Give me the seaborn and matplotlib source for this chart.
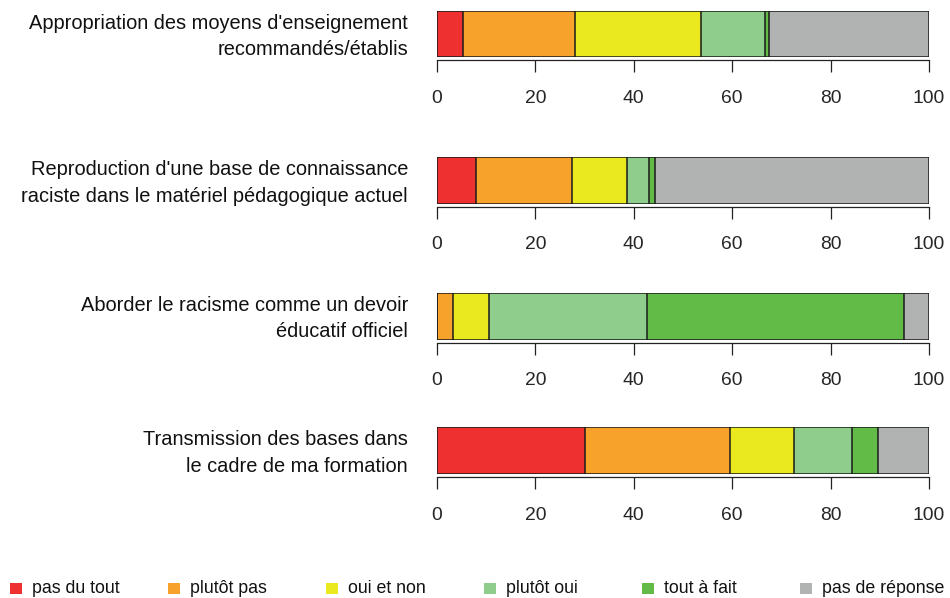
import matplotlib
matplotlib.use("Agg")
import matplotlib.pyplot as plt
from matplotlib.patches import Rectangle
import seaborn as sns
import pandas as pd
import numpy as np

sns.set_style("white")
plt.rcParams['font.family'] = ['Liberation Sans', 'DejaVu Sans']

questions = [
    "Appropriation des moyens d'enseignement\nrecommandés/établis",
    "Reproduction d'une base de connaissance\nraciste dans le matériel pédagogique actuel",
    "Aborder le racisme comme un devoir\néducatif officiel",
    "Transmission des bases dans\nle cadre de ma formation",
]
categories = ["pas du tout", "plutôt pas", "oui et non", "plutôt oui", "tout à fait", "pas de réponse"]
colors = ["#EE3030", "#F7A22B", "#EAE81F", "#8FCD8C", "#62BA47", "#B1B3B3"]

pas_du_tout = [5.2, 7.9, 0.0, 30.1]
plutot_pas = [22.9, 19.6, 3.3, 29.5]
oui_et_non = [25.5, 11.1, 7.2, 13.0]
plutot_oui = [13.1, 4.5, 32.1, 11.8]
tout_a_fait = [0.7, 1.3, 52.3, 5.2]
pas_de_reponse = [32.6, 55.6, 5.1, 10.4]
x_ticks = [0, 20, 40, 60, 80, 100]

series = [pas_du_tout, plutot_pas, oui_et_non, plutot_oui, tout_a_fait, pas_de_reponse]

W, H = 950, 598
fig = plt.figure(figsize=(W / 100, H / 100), dpi=100)

tops = [11, 157.3, 292.7, 427.3]
bots = [57.3, 204, 340, 474.3]
x0, x1 = 437, 929

for i, q in enumerate(questions):
    vals = np.array([s[i] for s in series])
    vals = vals / vals.sum() * 100
    cum = np.cumsum(vals)
    df = pd.DataFrame({"cat": categories, "cum": cum, "y": ["q"] * len(categories)})
    ax = fig.add_axes([x0 / W, 1 - bots[i] / H, (x1 - x0) / W, (bots[i] - tops[i]) / H])
    sns.barplot(data=df, x="cum", y="y", hue="cat", hue_order=categories[::-1],
                palette=dict(zip(categories, colors)), dodge=False, orient="h",
                saturation=1, edgecolor="#1a1a1a", linewidth=1.1, width=0.8,
                legend=False, ax=ax)
    ax.set_xlim(0, 100)
    ax.set_ylim(0.4, -0.4)
    ax.set_yticks([])
    ax.set_xlabel("")
    ax.set_ylabel("")
    for s in ["left", "right", "top"]:
        ax.spines[s].set_visible(False)
    ax.spines["bottom"].set_position(("outward", 2))
    ax.spines["bottom"].set_bounds(0, 100)
    ax.spines["bottom"].set_linewidth(0.9)
    ax.spines["bottom"].set_color("#222222")
    ax.set_xticks(x_ticks)
    ax.set_xticklabels([str(t) for t in x_ticks])
    ax.tick_params(axis="x", direction="out", length=8.5, width=0.9, pad=12.8,
                   labelsize=13.9, color="#222222", bottom=True)
    ax.patch.set_alpha(0)
    yc = (tops[i] + bots[i]) / 2 + 2.2
    fig.text(408 / W, 1 - yc / H, q, ha="right", va="center", fontsize=14.4,
             linespacing=1.5, color="#111111")

# legend
leg_x = [10, 168, 326, 484, 642, 800]
for lx, cat, col in zip(leg_x, categories, colors):
    fig.patches.append(Rectangle((lx / W, 1 - 594 / H), 11.5 / W, 11.5 / H,
                                 transform=fig.transFigure, facecolor=col,
                                 edgecolor="none"))
    fig.text((lx + 22) / W, 1 - 588.5 / H, cat, ha="left", va="center",
             fontsize=12.8, color="#111111")

fig.savefig("out.png", dpi=100)
